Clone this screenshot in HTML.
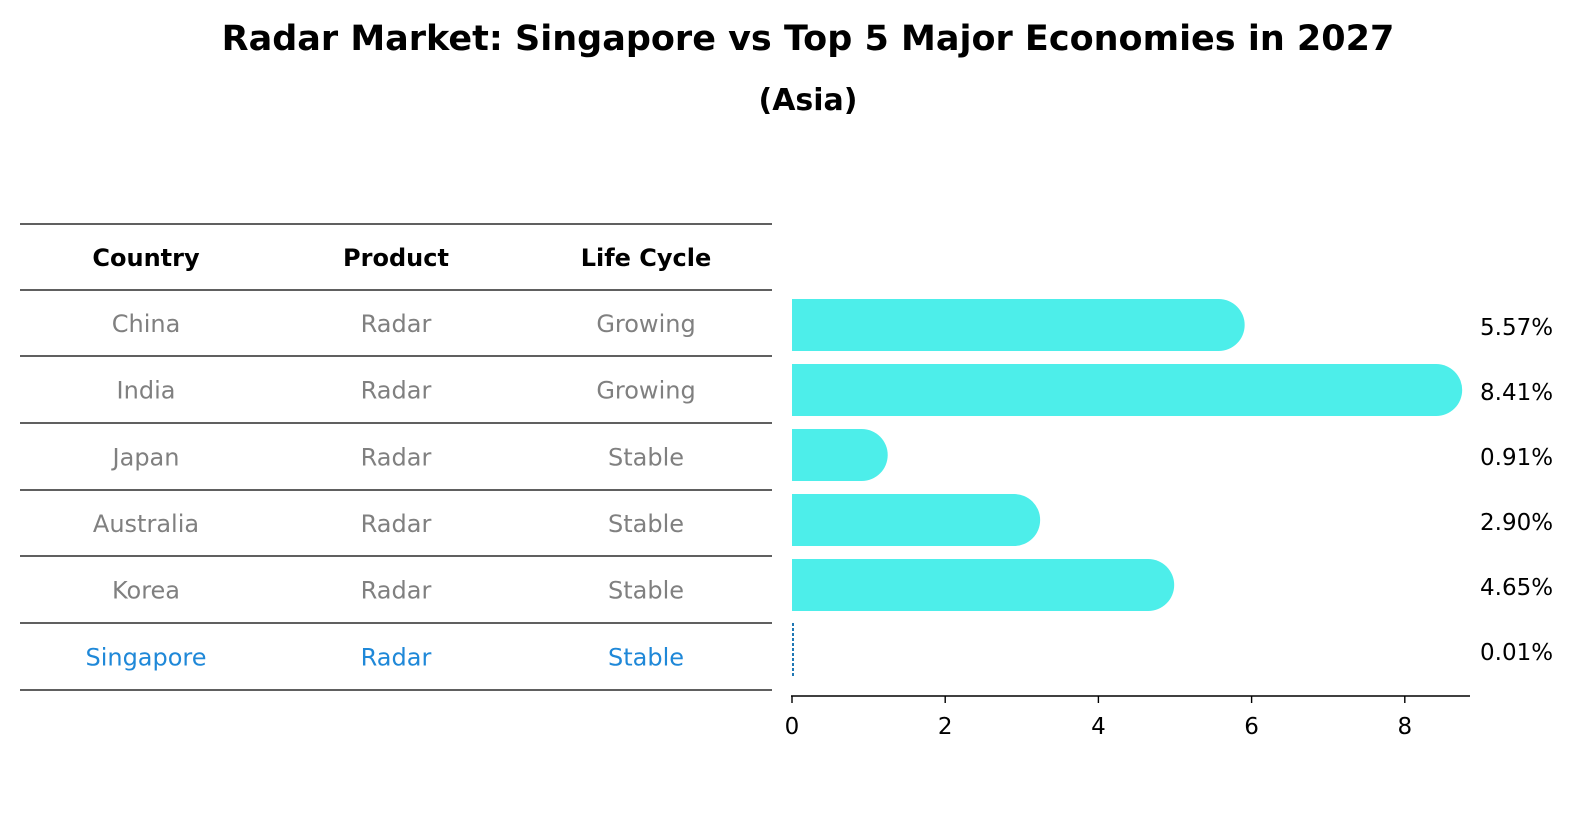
<!DOCTYPE html>
<html><head><meta charset="utf-8"><style>
body{margin:0;background:#fff;}
svg text{font-family:"DejaVu Sans","Liberation Sans",sans-serif;}
</style></head><body>
<svg id="chart" width="1586" height="823" viewBox="0 0 1586 823" xmlns="http://www.w3.org/2000/svg">
<text x="808" y="50" text-anchor="middle" font-size="35" font-weight="bold">Radar Market: Singapore vs Top 5 Major Economies in 2027</text>
<text x="808" y="110" text-anchor="middle" font-size="30" font-weight="bold">(Asia)</text>
<g id="table"></g>
<g id="bars"></g>
</svg>
<script>
const countries=["China","India","Japan","Australia","Korea","Singapore"];
const products=["Radar","Radar","Radar","Radar","Radar","Radar"];
const lifeCycles=["Growing","Growing","Stable","Stable","Stable","Stable"];
const growth=[5.57,8.41,0.91,2.90,4.65,0.01];
const ticks=[0,2,4,6,8];
const NS="http://www.w3.org/2000/svg";
function mk(t,a,p){const e=document.createElementNS(NS,t);for(const k in a)e.setAttribute(k,a[k]);p.appendChild(e);return e;}
const tbl=document.getElementById('table');
const lineYs=[224,290,356,423,490,556,623,690];
lineYs.forEach(y=>{const l=mk('line',{x1:20,x2:772,y1:y,y2:y,stroke:'#000','stroke-width':1.2},tbl);

});
const colX=[146,396,646];
["Country","Product","Life Cycle"].forEach((h,i)=>{const t=mk('text',{x:colX[i],y:266,'text-anchor':'middle','font-size':24,'font-weight':'bold'},tbl);t.textContent=h;

});
countries.forEach((c,r)=>{const y=(lineYs[r+1]+lineYs[r+2])/2+9;const col=c==="Singapore"?'#1f88d8':'#808080';
[c,products[r],lifeCycles[r]].forEach((v,i)=>{const t=mk('text',{x:colX[i],y:y,'text-anchor':'middle','font-size':24,fill:col},tbl);t.textContent=v;

});});
const g=document.getElementById('bars');
const x0=792,ppu=76.6;const xs=v=>x0+v*ppu;
const rowY=r=>325+r*65;const bh=52,rad=26;
growth.forEach((v,r)=>{const yc=rowY(r);
if(v<0.05){const l=mk('line',{x1:xs(0)+1,x2:xs(0)+1,y1:yc-27,y2:yc+28,stroke:'#1f77b4','stroke-width':2,'stroke-dasharray':'3,2'},g);

}
else{const xe=xs(v);const p=mk('path',{d:`M${xs(0)},${yc-bh/2} H${xe} A${rad},${rad} 0 0 1 ${xe},${yc+bh/2} H${xs(0)} Z`,fill:'#4deeea'},g);

}
const t=mk('text',{x:1480,y:yc+10,'font-size':23},g);t.textContent=v.toFixed(2)+'%';

});
const ax=mk('line',{x1:xs(0)-1,x2:1470,y1:696,y2:696,stroke:'#000','stroke-width':1.6},g);


ticks.forEach(v=>{const tk=mk('line',{x1:xs(v),x2:xs(v),y1:696,y2:703,stroke:'#000','stroke-width':1.4},g);


const t=mk('text',{x:xs(v),y:734,'text-anchor':'middle','font-size':23},g);t.textContent=v;

});
</script>
</body></html>
